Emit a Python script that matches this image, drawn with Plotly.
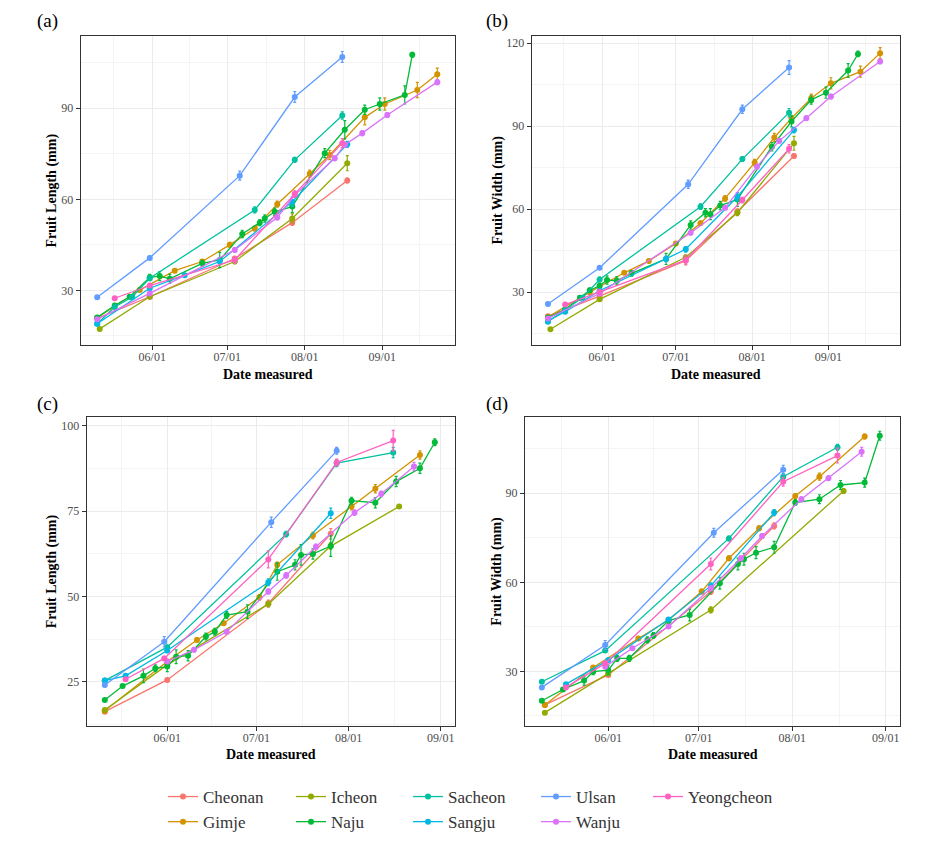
import plotly.graph_objects as go

W, H = 931, 856
YEAR = "2021"

SITES = ["Cheonan", "Gimje", "Icheon", "Naju", "Sacheon", "Sangju", "Ulsan", "Wanju", "Yeongcheon"]
COLORS = ["#F8766D", "#D39200", "#93AA00", "#00BA38", "#00C19F", "#00B9E3", "#619CFF", "#DB72FB", "#FF61C3"]

X_TICK_VALS = ["06-01", "07-01", "08-01", "09-01"]
X_TICK_TEXT = ["06/01", "07/01", "08/01", "09/01"]
X_MINOR_VALS = ["05-16 12:00", "06-16", "07-16 12:00", "08-16 12:00", "09-16"]

# ---------------- (a) Fruit length, upper ----------------
a_dates = {
    "Cheonan": ["05-10", "05-31", "07-04", "07-27", "08-18"],
    "Gimje": ["05-10", "05-27", "06-10", "06-21", "07-02", "07-12", "07-21", "08-03", "08-11", "08-25", "09-02", "09-15", "09-23"],
    "Icheon": ["05-11", "05-31", "07-04", "07-27", "08-18"],
    "Naju": ["05-10", "05-17", "05-23", "05-31", "06-04", "06-08", "06-21", "06-28", "07-07", "07-14", "07-16", "07-20", "07-27", "08-09", "08-17", "08-25", "08-31", "09-10", "09-13"],
    "Sacheon": ["05-10", "05-17", "05-24", "05-31", "07-12", "07-28", "08-16"],
    "Sangju": ["05-10", "05-31", "06-14", "06-28", "07-27", "08-18"],
    "Ulsan": ["05-10", "05-31", "07-06", "07-28", "08-16"],
    "Wanju": ["05-10", "05-31", "07-04", "07-21", "07-28", "08-13", "08-17", "08-24", "09-03", "09-23"],
    "Yeongcheon": ["05-17", "05-31", "07-04", "07-28", "08-16"],
}
a_vals = {
    "Cheonan": [20.8, 27.9, 40.5, 52.3, 66.2],
    "Gimje": [21.0, 30.1, 36.5, 39.5, 45.0, 50.4, 58.4, 68.4, 74.6, 87.0, 91.4, 96.0, 101.2],
    "Icheon": [17.3, 27.9, 39.5, 53.7, 71.9],
    "Naju": [21.1, 25.0, 27.9, 34.3, 34.7, 33.8, 38.9, 40.0, 48.6, 52.3, 53.7, 55.9, 57.6, 75.2, 82.9, 89.5, 91.4, 94.4, 107.6],
    "Sacheon": [19.0, 24.5, 27.8, 34.0, 56.5, 73.0, 87.6],
    "Sangju": [19.0, 30.7, 35.0, 39.5, 59.2, 78.1],
    "Ulsan": [27.7, 40.7, 67.8, 93.7, 106.9],
    "Wanju": [20.5, 29.0, 43.3, 54.0, 61.4, 73.5, 78.0, 81.8, 87.8, 98.6],
    "Yeongcheon": [27.4, 31.6, 40.0, 61.8, 78.5],
}
a_err = {
    "Cheonan": [0.4, 0.4, 0.6, 0.8, 0.8],
    "Gimje": [0.5, 0.5, 0.6, 0.6, 0.8, 0.8, 1.0, 1.2, 1.5, 2.5, 2.0, 2.5, 2.0],
    "Icheon": [0.5, 0.5, 0.7, 1.5, 2.5],
    "Naju": [0.5, 0.6, 0.6, 1.0, 1.5, 1.5, 1.0, 2.5, 1.2, 1.0, 1.2, 1.2, 2.0, 1.5, 3.0, 1.5, 2.0, 3.0, 0.8],
    "Sacheon": [0.4, 0.5, 0.6, 0.8, 1.0, 0.8, 1.2],
    "Sangju": [0.4, 0.6, 0.6, 0.8, 1.5, 1.0],
    "Ulsan": [0.5, 0.6, 1.5, 1.8, 1.8],
    "Wanju": [0.4, 0.5, 0.8, 0.8, 0.8, 0.8, 0.8, 0.8, 0.8, 0.8],
    "Yeongcheon": [0.5, 0.6, 1.0, 1.0, 1.5],
}

# ---------------- (b) Fruit width, upper ----------------
b_dates = {
    "Cheonan": ["05-10", "05-31", "07-05", "07-26", "08-18"],
    "Gimje": ["05-10", "05-27", "06-10", "06-20", "07-01", "07-11", "07-21", "08-02", "08-10", "08-17", "08-25", "09-02", "09-14", "09-22"],
    "Icheon": ["05-11", "05-31", "07-05", "07-26", "08-18"],
    "Naju": ["05-10", "05-17", "05-23", "05-27", "05-31", "06-03", "06-07", "06-13", "06-27", "07-07", "07-13", "07-15", "07-19", "07-26", "08-09", "08-17", "08-25", "08-31", "09-09", "09-13"],
    "Sacheon": ["05-10", "05-17", "05-24", "05-31", "07-11", "07-28", "08-16"],
    "Sangju": ["05-10", "05-17", "05-31", "06-27", "07-05", "07-26", "08-18"],
    "Ulsan": ["05-10", "05-31", "07-06", "07-28", "08-16"],
    "Wanju": ["05-10", "05-31", "07-07", "07-21", "08-03", "08-12", "08-23", "09-02", "09-22"],
    "Yeongcheon": ["05-17", "05-31", "07-05", "07-28", "08-16"],
}
b_vals = {
    "Cheonan": [21.3, 28.6, 41.4, 59.1, 79.2],
    "Gimje": [21.0, 30.0, 37.0, 41.3, 47.6, 54.9, 63.9, 76.8, 85.9, 92.9, 100.1, 105.5, 109.7, 116.4],
    "Icheon": [16.6, 27.4, 42.6, 58.7, 83.8],
    "Naju": [20.8, 23.7, 28.0, 30.7, 32.3, 34.4, 34.1, 36.8, 42.0, 54.3, 58.7, 58.2, 61.3, 63.5, 82.6, 91.7, 99.5, 102.1, 110.1, 116.1],
    "Sacheon": [19.3, 23.5, 28.0, 34.6, 60.9, 78.1, 94.9],
    "Sangju": [19.6, 22.9, 30.5, 42.0, 45.5, 64.5, 88.6],
    "Ulsan": [25.7, 38.8, 69.0, 96.1, 111.2],
    "Wanju": [20.5, 29.5, 51.5, 60.5, 75.4, 84.7, 92.9, 100.7, 113.4],
    "Yeongcheon": [25.5, 30.1, 41.6, 63.3, 81.8],
}
b_err = {
    "Cheonan": [0.4, 0.5, 1.5, 1.0, 0.8],
    "Gimje": [0.4, 0.5, 0.6, 0.6, 0.7, 0.8, 1.0, 1.2, 1.5, 1.0, 1.5, 2.0, 2.0, 2.0],
    "Icheon": [0.4, 0.5, 0.8, 1.0, 2.5],
    "Naju": [0.5, 0.5, 0.8, 0.8, 1.0, 1.5, 1.5, 1.0, 2.0, 1.5, 1.5, 2.0, 1.5, 2.5, 1.5, 2.0, 1.5, 2.0, 2.5, 1.0],
    "Sacheon": [0.4, 0.5, 0.6, 0.8, 1.0, 0.8, 1.5],
    "Sangju": [0.4, 0.5, 0.6, 1.0, 1.0, 1.5, 1.0],
    "Ulsan": [0.5, 0.6, 1.5, 1.5, 2.5],
    "Wanju": [0.4, 0.5, 0.8, 0.8, 0.8, 0.8, 0.8, 0.8, 0.8],
    "Yeongcheon": [0.5, 0.6, 1.5, 1.0, 1.5],
}

# ---------------- (c) Fruit length, lower ----------------
c_dates = {
    "Cheonan": ["05-11", "06-01", "07-05", "07-26"],
    "Gimje": ["05-11", "06-01", "06-11", "06-20", "07-02", "07-08", "07-20", "08-02", "08-10", "08-25"],
    "Icheon": ["05-11", "06-01", "07-05", "07-26", "08-18"],
    "Naju": ["05-11", "05-17", "05-24", "05-28", "06-01", "06-04", "06-08", "06-14", "06-17", "06-21", "06-28", "07-08", "07-14", "07-16", "07-20", "07-26", "08-02", "08-10", "08-17", "08-25", "08-30"],
    "Sacheon": ["05-11", "06-01", "07-11", "07-28", "08-16"],
    "Sangju": ["05-11", "05-18", "06-01", "07-05", "07-26"],
    "Ulsan": ["05-11", "05-31", "07-06", "07-28"],
    "Wanju": ["06-01", "06-10", "06-21", "07-05", "07-11", "07-21", "08-03", "08-12", "08-23"],
    "Yeongcheon": ["05-18", "05-31", "07-05", "07-28", "08-16"],
}
c_vals = {
    "Cheonan": [16.3, 25.6, 48.0, 68.4],
    "Gimje": [16.6, 31.0, 37.3, 42.2, 49.8, 59.3, 67.9, 76.4, 81.6, 91.5],
    "Icheon": [16.8, 30.0, 47.8, 64.8, 76.4],
    "Naju": [19.7, 23.8, 26.8, 29.0, 29.5, 32.4, 32.7, 38.3, 39.7, 44.6, 45.6, 57.3, 59.3, 62.2, 62.5, 64.8, 78.1, 77.5, 83.7, 87.6, 95.2],
    "Sacheon": [25.4, 35.2, 68.3, 89.1, 92.2],
    "Sangju": [25.4, 26.8, 34.2, 54.2, 74.4],
    "Ulsan": [24.1, 36.8, 71.8, 92.7],
    "Wanju": [31.0, 34.4, 39.7, 51.5, 56.2, 64.6, 74.6, 80.1, 88.1],
    "Yeongcheon": [25.8, 31.9, 60.9, 89.3, 95.7],
}
c_err = {
    "Cheonan": [0.4, 0.5, 1.0, 1.5],
    "Gimje": [0.4, 0.5, 0.6, 0.6, 0.8, 0.8, 1.0, 1.0, 1.2, 1.2],
    "Icheon": [0.4, 0.5, 0.8, 1.0, 0.5],
    "Naju": [0.4, 0.5, 2.0, 1.0, 1.5, 2.0, 1.5, 1.0, 1.0, 1.0, 2.0, 2.5, 1.5, 3.0, 1.5, 3.0, 1.0, 1.5, 1.5, 1.5, 1.0],
    "Sacheon": [0.5, 0.6, 0.8, 1.0, 1.5],
    "Sangju": [0.4, 0.5, 0.6, 1.0, 1.5],
    "Ulsan": [0.5, 1.5, 1.5, 1.0],
    "Wanju": [0.5, 0.6, 0.6, 0.8, 0.8, 0.8, 0.8, 0.8, 1.2],
    "Yeongcheon": [0.5, 0.6, 2.5, 1.0, 3.0],
}

# ---------------- (d) Fruit width, lower ----------------
d_dates = {
    "Cheonan": ["05-11", "06-01", "07-05", "07-26"],
    "Gimje": ["05-11", "05-27", "06-11", "06-21", "07-02", "07-11", "07-21", "08-02", "08-10", "08-25"],
    "Icheon": ["05-11", "06-01", "07-05", "08-18"],
    "Naju": ["05-10", "05-17", "05-24", "05-27", "06-01", "06-04", "06-08", "06-14", "06-16", "06-21", "06-28", "07-08", "07-14", "07-16", "07-20", "07-26", "08-02", "08-10", "08-17", "08-25", "08-30"],
    "Sacheon": ["05-10", "05-31", "07-11", "07-29", "08-16"],
    "Sangju": ["05-18", "06-01", "06-21", "07-05", "07-26"],
    "Ulsan": ["05-10", "05-31", "07-06", "07-29"],
    "Wanju": ["05-31", "06-09", "06-21", "07-05", "07-15", "07-22", "08-04", "08-13", "08-24"],
    "Yeongcheon": ["05-18", "05-31", "07-05", "07-29", "08-16"],
}
d_vals = {
    "Cheonan": [18.7, 28.8, 56.9, 79.0],
    "Gimje": [18.7, 31.3, 41.1, 47.3, 56.9, 68.1, 78.2, 89.1, 95.6, 109.1],
    "Icheon": [16.1, 29.3, 50.7, 90.8],
    "Naju": [20.1, 23.9, 26.9, 29.9, 30.4, 34.4, 34.4, 40.6, 42.1, 47.1, 49.0, 59.7, 66.2, 67.8, 70.0, 71.8, 86.9, 88.0, 92.8, 93.6, 109.4],
    "Sacheon": [26.5, 37.0, 74.8, 95.6, 105.5],
    "Sangju": [25.7, 33.8, 47.5, 58.8, 83.5],
    "Ulsan": [24.6, 38.9, 76.7, 97.9],
    "Wanju": [31.6, 37.8, 45.1, 58.0, 68.1, 75.6, 88.0, 95.1, 104.0],
    "Yeongcheon": [24.6, 32.7, 66.2, 93.9, 102.7],
}
d_err = {
    "Cheonan": [0.4, 0.5, 1.0, 1.0],
    "Gimje": [0.4, 0.5, 0.6, 0.6, 0.8, 0.8, 0.8, 0.8, 1.2, 0.8],
    "Icheon": [0.4, 0.5, 1.0, 0.8],
    "Naju": [0.5, 0.5, 1.5, 1.0, 1.5, 1.0, 1.0, 1.0, 1.0, 1.0, 2.0, 2.0, 2.0, 2.0, 2.0, 2.0, 1.0, 1.5, 1.5, 1.5, 1.5],
    "Sacheon": [0.5, 0.6, 0.8, 1.0, 1.0],
    "Sangju": [0.5, 0.5, 0.6, 1.0, 1.0],
    "Ulsan": [0.5, 1.5, 1.5, 1.5],
    "Wanju": [0.5, 0.5, 0.6, 0.8, 0.8, 0.8, 0.8, 0.8, 1.5],
    "Yeongcheon": [0.5, 0.6, 2.0, 1.5, 2.5],
}

Y_TITLES = ["Fruit Length (mm)", "Fruit Width (mm)", "Fruit Length (mm)", "Fruit Width (mm)"]
X_TITLE = "Date measured"
PANEL_LABELS = ["(a)", "(b)", "(c)", "(d)"]
Y_TICKS = [[30, 60, 90], [30, 60, 90, 120], [25, 50, 75, 100], [30, 60, 90]]
Y_MINOR = [[15, 45, 75, 105], [15, 45, 75, 105], [12.5, 37.5, 62.5, 87.5], [15, 45, 75, 105]]

# ---------------- layout geometry (pixels) ----------------
BOXES = [  # x0, x1, y0(top), y1(bottom)
    (80.7, 455.0, 36.0, 345.0),
    (531.7, 900.0, 36.0, 345.0),
    (86.7, 455.0, 416.7, 726.0),
    (525.0, 900.0, 417.3, 726.0),
]
Y_RANGES = [[12.0, 113.8], [10.9, 122.6], [12.1, 102.7], [11.6, 115.6]]
X_RANGES = [["05-03 09:30", "09-30 02:00"], ["05-03 09:30", "09-30 02:00"],
            ["05-04 22:00", "09-05 19:00"], ["05-04 10:00", "09-05 17:00"]]
YTITLE_X = [52, 498, 52, 497]
XTITLE_Y = [374, 374, 754, 754]
LABEL_POS = [(47, 21), (497, 21), (47, 404), (497, 404)]

FONT = "Liberation Serif"


def d(s):
    return f"{YEAR}-{s}"


panels = [(a_dates, a_vals, a_err), (b_dates, b_vals, b_err),
          (c_dates, c_vals, c_err), (d_dates, d_vals, d_err)]

fig = go.Figure()

for p, (dd, vv, ee) in enumerate(panels):
    xa = "x" if p == 0 else f"x{p+1}"
    ya = "y" if p == 0 else f"y{p+1}"
    for k, site in enumerate(SITES):
        col = COLORS[k]
        fig.add_trace(go.Scatter(
            x=[d(s) for s in dd[site]], y=vv[site],
            error_y=dict(type="data", array=ee[site], color=col, thickness=1.2, width=1.5),
            mode="lines+markers",
            line=dict(color=col, width=1.3),
            marker=dict(color=col, size=6),
            name=site, legendgroup=site,
            showlegend=(p == 0),
            legend=("legend" if k // 2 == 0 else f"legend{k // 2 + 1}"),
            xaxis=xa, yaxis=ya,
        ))

layout = dict(
    width=W, height=H,
    margin=dict(l=0, r=0, t=0, b=0),
    paper_bgcolor="white", plot_bgcolor="white",
    font=dict(family=FONT, color="#4D4D4D"),
    annotations=[], showlegend=True,
)

for p in range(4):
    x0, x1, y0, y1 = BOXES[p]
    sfx = "" if p == 0 else str(p + 1)
    xa_name = "x" if p == 0 else f"x{p+1}"
    ya_name = "y" if p == 0 else f"y{p+1}"
    layout["xaxis" + sfx] = dict(
        domain=[x0 / W, x1 / W], anchor=ya_name, type="date",
        range=[d(X_RANGES[p][0]), d(X_RANGES[p][1])],
        tickmode="array", tickvals=[d(s) for s in X_TICK_VALS], ticktext=X_TICK_TEXT,
        ticks="outside", ticklen=4, tickcolor="#333333", tickwidth=1,
        ticklabelstandoff=-3,
        tickfont=dict(family=FONT, size=12, color="#4D4D4D"),
        showgrid=True, gridcolor="#EBEBEB", gridwidth=1,
        minor=dict(tickmode="array", tickvals=[d(s) for s in X_MINOR_VALS],
                   showgrid=True, gridcolor="#F4F4F4", gridwidth=1, ticklen=0),
        showline=True, linecolor="#333333", linewidth=1, mirror=True,
        zeroline=False,
    )
    layout["yaxis" + sfx] = dict(
        domain=[1 - y1 / H, 1 - y0 / H], anchor=xa_name,
        range=Y_RANGES[p],
        tickmode="array", tickvals=Y_TICKS[p], ticktext=[str(v) for v in Y_TICKS[p]],
        ticks="outside", ticklen=4, tickcolor="#333333", tickwidth=1,
        tickfont=dict(family=FONT, size=12, color="#4D4D4D"),
        showgrid=True, gridcolor="#EBEBEB", gridwidth=1,
        minor=dict(tickmode="array", tickvals=Y_MINOR[p],
                   showgrid=True, gridcolor="#F4F4F4", gridwidth=1, ticklen=0),
        showline=True, linecolor="#333333", linewidth=1, mirror=True,
        zeroline=False,
    )
    layout["annotations"].append(dict(
        text=f"<b>{X_TITLE}</b>", x=((x0 + x1) / 2) / W, y=1 - XTITLE_Y[p] / H,
        xref="paper", yref="paper", showarrow=False,
        font=dict(family=FONT, size=14, color="black"), xanchor="center", yanchor="middle"))
    layout["annotations"].append(dict(
        text=f"<b>{Y_TITLES[p]}</b>", x=YTITLE_X[p] / W, y=1 - ((y0 + y1) / 2) / H,
        xref="paper", yref="paper", showarrow=False, textangle=-90,
        font=dict(family=FONT, size=14, color="black"), xanchor="center", yanchor="middle"))
    lx, ly = LABEL_POS[p]
    layout["annotations"].append(dict(
        text=PANEL_LABELS[p], x=lx / W, y=1 - ly / H,
        xref="paper", yref="paper", showarrow=False,
        font=dict(family=FONT, size=19, color="black"), xanchor="center", yanchor="middle"))

# legends: five columns, two rows (column-major like ggplot)
LEGEND_TEXT_X = [205, 333, 450, 578, 690]
for c in range(5):
    key = "legend" if c == 0 else f"legend{c+1}"
    layout[key] = dict(
        x=(LEGEND_TEXT_X[c] - 42) / W, y=1 - 779 / H, xanchor="left", yanchor="top",
        orientation="v", bgcolor="rgba(0,0,0,0)", borderwidth=0,
        font=dict(family=FONT, size=17, color="#333333"),
        itemwidth=30, tracegroupgap=0,
    )

fig.update_layout(**layout)
fig.write_html("out.html", config={"displayModeBar": False},
               post_script="document.body.style.margin='0px';document.body.style.overflow='hidden';")
